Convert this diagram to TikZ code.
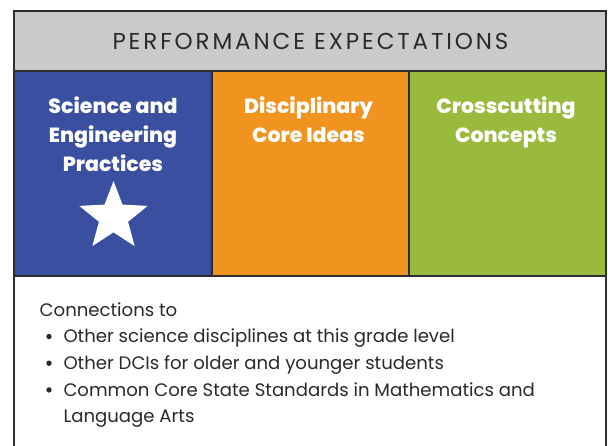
\documentclass[tikz,border=0pt]{standalone}
\usepackage{fontspec}
\setmainfont{Poppins}
\newfontfamily\hdrfont[LetterSpace=12.5]{Poppins}
\newfontfamily\ttlfont[BoldFont={Poppins ExtraBold}]{Poppins}
\usetikzlibrary{shapes.geometric}
\definecolor{frame}{HTML}{2E2E30}
\definecolor{hdrgray}{HTML}{C9CACC}
\definecolor{sepblue}{HTML}{3A4F9F}
\definecolor{dciorange}{HTML}{F0931F}
\definecolor{ccgreen}{HTML}{99BA3C}
\definecolor{txt}{HTML}{2A2A2C}
\tikzset{
  border/.style={draw=frame, line width=2.2pt},
  title/.style={text=white, font=\ttlfont\bfseries\fontsize{20.5}{29}\selectfont, align=center, anchor=base, inner sep=0pt},
  body/.style={text=txt, font=\fontsize{18.1}{26.7}\selectfont, anchor=base west, inner sep=0pt},
  bul/.style={circle, fill=txt, inner sep=0pt, minimum size=5.4pt}
}
\begin{document}
\begin{tikzpicture}[x=1pt,y=-1pt]
\useasboundingbox (0,0) rectangle (608,445);
\fill[white] (0,0) rectangle (608,445);
% fills
\fill[hdrgray] (14,11) rectangle (606,71);
\fill[sepblue] (14,71) rectangle (212,276);
\fill[dciorange] (212,71) rectangle (409,276);
\fill[ccgreen] (409,71) rectangle (606,276);
% frame
\draw[border] (14,447) -- (14,11) -- (606,11) -- (606,447);
\draw[border] (14,71) -- (606,71);
\draw[border] (14,276) -- (606,276);
\draw[border] (212,71) -- (212,276);
\draw[border] (409,71) -- (409,276);
% header
\node[text=txt, font=\hdrfont\fontsize{23}{26}\selectfont, anchor=base, inner sep=0pt] (hdr) at (310.5,49.3) {PERFORMANCE EXPECTATIONS};
% titles
\node[title] (sep1) at (113,113) {Science and};
\node[title] (sep2) at (113,142) {Engineering};
\node[title] (sep3) at (113,171) {Practices};
\node[title] (dci1) at (308.5,113) {Disciplinary};
\node[title] (dci2) at (308.5,142) {Core Ideas};
\node[title] (cc1) at (506,113) {Crosscutting};
\node[title] (cc2) at (506,142) {Concepts};
% star
\node[star, star points=5, star point ratio=2.35, fill=white, minimum size=72pt, inner sep=0pt] (star) at (113.5,217) {};
% bottom text
\node[body] (conn) at (39.5,316) {Connections to};
\node[body] (l1) at (63.3,342.7) {Other science disciplines at this grade level};
\node[body] (l2) at (63.3,369.3) {Other DCIs for older and younger students};
\node[body] (l3) at (63.3,396) {Common Core State Standards in Mathematics and};
\node[body] (l4) at (63.3,422.7) {Language Arts};
\node[bul] (b1) at (49,336.5) {};
\node[bul] (b2) at (49,363.2) {};
\node[bul] (b3) at (49,389.9) {};
\end{tikzpicture}
\end{document}
